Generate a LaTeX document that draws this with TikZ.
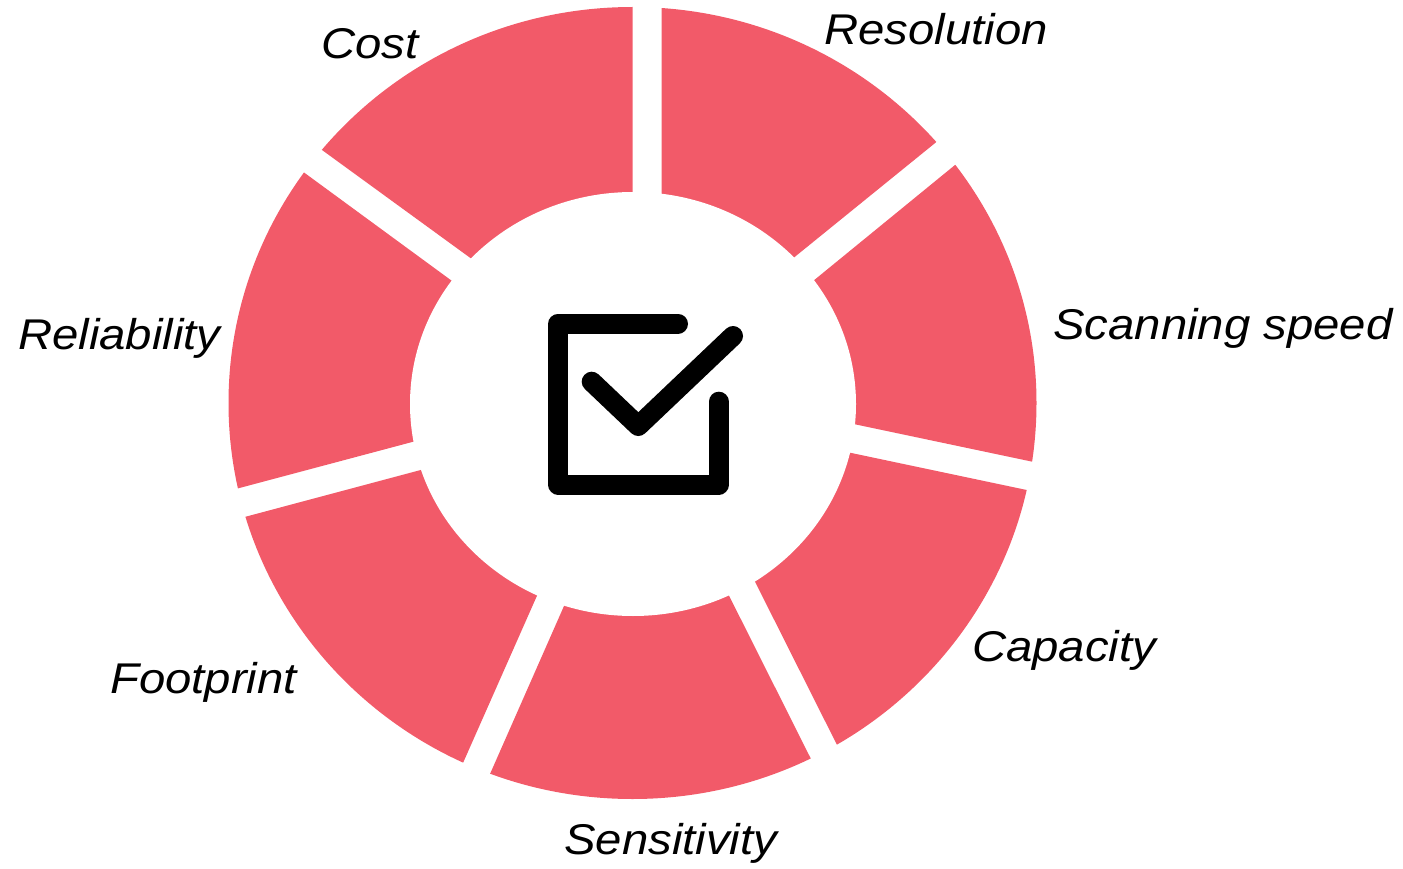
\documentclass[tikz,border=0pt]{standalone}
\usepackage{fontspec}
\usepackage{tikz}
\usetikzlibrary{calc}
\newfontfamily\lblfont{Liberation Sans}[FakeStretch=1.1]
\definecolor{segred}{RGB}{242,90,105}

\begin{document}
\begin{tikzpicture}[x=1pt, y=-1pt,
  seg/.style={fill=segred},
  lbl/.style={font=\lblfont\itshape\fontsize{43}{51}\selectfont, anchor=base west, inner sep=0pt},
  tick/.style={line width=20pt, line cap=round, line join=round}]
  \useasboundingbox (0,0) rectangle (1403,869);
  % gap edges: outer end (o) and inner end (i)
  \coordinate (costL-o) at (322,150);    \coordinate (costL-i) at (470,257.7);
  \coordinate (costR-o) at (632.7,7);    \coordinate (costR-i) at (632.7,192);
  \coordinate (resL-o) at (661.7,8);     \coordinate (resL-i) at (661.7,192);
  \coordinate (resR-o) at (936,142.3);   \coordinate (resR-i) at (795,256.7);
  \coordinate (scaL-o) at (955,165);     \coordinate (scaL-i) at (814.3,280);
  \coordinate (scaR-o) at (1032.3,461.7); \coordinate (scaR-i) at (855,424.3);
  \coordinate (capL-o) at (1026.7,490);  \coordinate (capL-i) at (850,452.7);
  \coordinate (capR-o) at (836.7,744.3); \coordinate (capR-i) at (755,581.7);
  \coordinate (senL-o) at (811,759);     \coordinate (senL-i) at (728.7,595);
  \coordinate (senR-o) at (490,774);     \coordinate (senR-i) at (564,606);
  \coordinate (fooL-o) at (463.3,762.3); \coordinate (fooL-i) at (537.3,595);
  \coordinate (fooR-o) at (245.7,516.7); \coordinate (fooR-i) at (420.7,470);
  \coordinate (relL-o) at (238.3,488.3); \coordinate (relL-i) at (413.3,441.7);
  \coordinate (relR-o) at (304.3,172.7); \coordinate (relR-i) at (450.7,280);

  \begin{scope}
    \clip (632.5,403) ellipse [x radius=404, y radius=396];
    \foreach \a/\b in {costL/costR, resL/resR, scaL/scaR, capL/capR, senL/senR, fooL/fooR, relL/relR}
      \fill[seg] ($(\a-o)!1.4!(\a-i)$) -- ($(\a-i)!1.8!(\a-o)$)
        -- ($(\b-i)!1.8!(\b-o)$) -- ($(\b-o)!1.4!(\b-i)$) -- cycle;
  \end{scope}
  \fill[white] (633,404) ellipse [x radius=223, y radius=212];

  % check box
  \draw[tick] (678,323.7) -- (558.3,323.7) -- (558.3,484.5) -- (718.7,484.5) -- (718.7,401.7);
  \draw[tick] (591.7,381.7) -- (638.3,426) -- (733,336);

  \node[lbl] (cost) at (321,59) {Cost};
  \node[lbl] (res) at (824,44.5) {Resolution};
  \node[lbl] (speed) at (1053,339.5) {Scanning speed};
  \node[lbl] (cap) at (972,661) {Capacity};
  \node[lbl] (sens) at (564,854) {Sensitivity};
  \node[lbl] (foot) at (110,693) {Footprint};
  \node[lbl] (rel) at (18,349.5) {Reliability};
\end{tikzpicture}
\end{document}
